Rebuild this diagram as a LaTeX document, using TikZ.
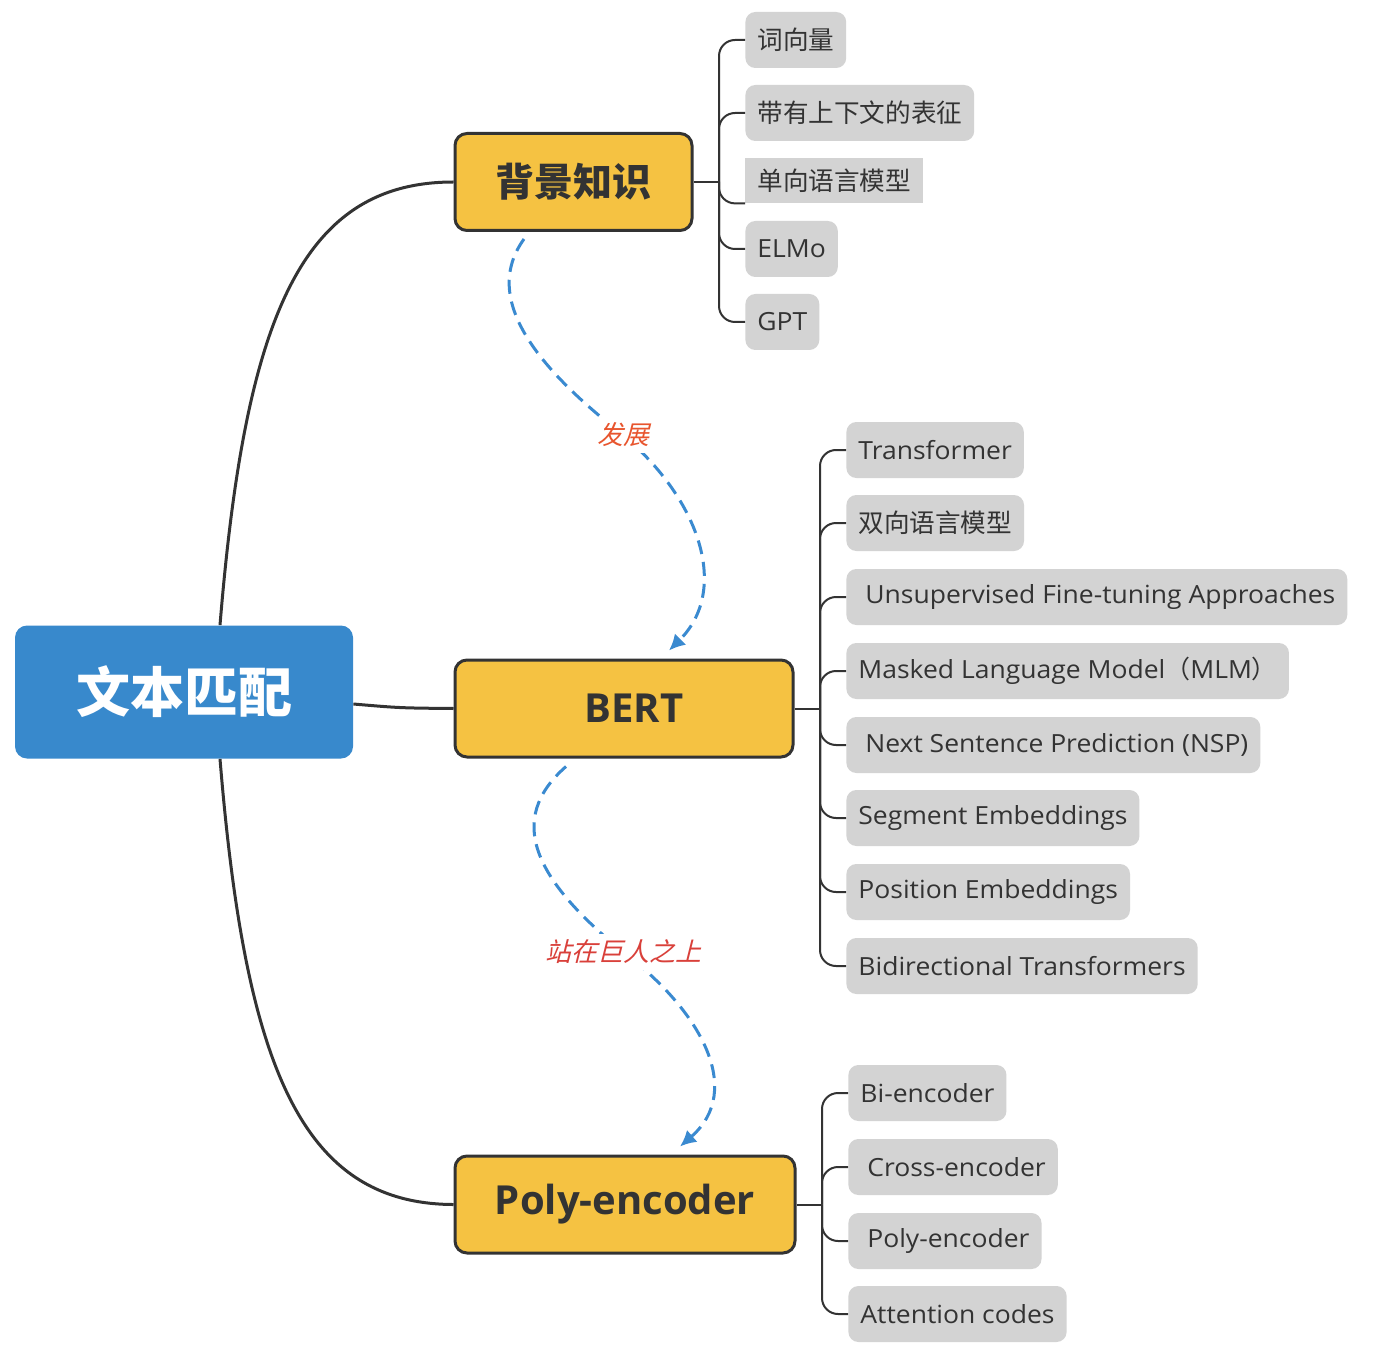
\documentclass[tikz,border=0pt]{standalone}
\usepackage{fontspec}
\setmainfont{Open Sans}
\newfontfamily\leaffont[FakeStretch=1.06]{Open Sans}
\newfontfamily\cjk{Noto Sans CJK SC}
\newfontfamily\cjkit[FakeSlant=0.25]{Noto Sans CJK SC}
\usetikzlibrary{arrows.meta}

\definecolor{rootblue}{HTML}{3889CC}
\definecolor{topicyellow}{HTML}{F5C242}
\definecolor{darkline}{HTML}{333333}
\definecolor{leafgray}{HTML}{D3D3D3}
\definecolor{flowblue}{HTML}{3A8AD0}
\definecolor{labelorange}{HTML}{E8552E}
\definecolor{labelred}{HTML}{D9403A}

\tikzset{
  rootbox/.style={fill=rootblue, rounded corners=6pt, text=white,
    minimum width=169pt, minimum height=66.5pt,
    font=\cjk\fontsize{27}{30}\selectfont\bfseries},
  topicbox/.style={draw=darkline, line width=1.5pt, fill=topicyellow,
    rounded corners=6pt, minimum height=48.5pt, text=darkline},
  leafbox/.style={fill=leafgray, rounded corners=5pt, minimum height=28pt,
    anchor=west, inner xsep=6pt, text=darkline,
    font=\leaffont\fontsize{12.5}{14}\selectfont},
  trunk/.style={draw=darkline, line width=1.5pt},
  branch/.style={draw=darkline, line width=1pt, rounded corners=8pt},
  flow/.style={draw=flowblue, line width=1.5pt, dash pattern=on 7pt off 4pt,
    -{Latex[length=8pt,width=8pt]}},
  flowlabel/.style={fill=white, inner sep=3pt,
    font=\cjkit\fontsize{13}{15}\selectfont}
}

\begin{document}
\begin{tikzpicture}[x=0.5pt,y=-0.5pt]
\useasboundingbox (0,0) rectangle (1384,1352);

% main nodes
\node[rootbox] (root) at (184,692) {文本匹配};
\node[topicbox, minimum width=118.5pt, font=\cjk\fontsize{19.5}{22}\selectfont\bfseries] (bjzs) at (573.5,182) {背景知识};
\node[topicbox, minimum width=169pt, font=\fontsize{20}{22}\selectfont\bfseries] (bert) at (624,708.5) {\hspace*{10pt}BERT};
\node[topicbox, minimum width=170pt, font=\fontsize{20}{22}\selectfont\bfseries] (poly) at (625,1204.5) {Poly-encoder};

% trunks from the root
\draw[trunk] ([xshift=18pt]root.north) .. controls (245,320) and (300,182) .. (bjzs.west);
\draw[trunk] ([xshift=18pt]root.south) .. controls (245,1064) and (300,1204) .. (poly.west);
\draw[trunk] ([yshift=-6pt]root.east) .. controls (400,708) .. (bert.west);

% background leaves
\node[leafbox, font=\cjk\fontsize{12.8}{14}\selectfont] (cxl) at (745,40) {词向量};
\node[leafbox, font=\cjk\fontsize{12.8}{14}\selectfont] (dyzw) at (745,113) {带有上下文的表征};
\node[leafbox, font=\cjk\fontsize{12.8}{14}\selectfont, rounded corners=0pt, minimum height=22.5pt, minimum width=88.5pt] (dxyy) at (745,180.5) {单向语言模型};
\node[leafbox] (elmo) at (745,249) {ELMo};
\node[leafbox] (gpt) at (745,322) {GPT};

\coordinate (bjzsk) at (719,182);
\draw[branch] (bjzs.east) -- (bjzsk);
\draw[branch] (bjzsk) |- (cxl.west);
\draw[branch] (bjzsk) |- (dyzw.west);
\draw[branch] (bjzsk) |- (dxyy.south west);
\draw[branch] (bjzsk) |- (elmo.west);
\draw[branch] (bjzsk) |- (gpt.west);

% BERT leaves
\node[leafbox] (trf) at (846,450) {Transformer};
\node[leafbox, font=\cjk\fontsize{12.8}{14}\selectfont] (sxyy) at (846,523) {双向语言模型};
\node[leafbox] (ufta) at (846,597) {\ Unsupervised Fine-tuning Approaches};
\node[leafbox] (mlm) at (846,671) {Masked Language Model{\cjk （}MLM{\cjk ）}};
\node[leafbox] (nsp) at (846,745) {\ Next Sentence Prediction (NSP)};
\node[leafbox] (seg) at (846,818) {Segment Embeddings};
\node[leafbox] (pos) at (846,892) {Position Embeddings};
\node[leafbox] (bdt) at (846,966) {Bidirectional Transformers};

\coordinate (bertk) at (820,708.5);
\draw[branch] (bert.east) -- (bertk);
\draw[branch] (bertk) |- (trf.west);
\draw[branch] (bertk) |- (sxyy.west);
\draw[branch] (bertk) |- (ufta.west);
\draw[branch] (bertk) |- (mlm.west);
\draw[branch] (bertk) |- (nsp.west);
\draw[branch] (bertk) |- (seg.west);
\draw[branch] (bertk) |- (pos.west);
\draw[branch] (bertk) |- (bdt.west);

% Poly-encoder leaves
\node[leafbox] (bienc) at (848,1093) {Bi-encoder};
\node[leafbox] (crenc) at (848,1167) {\ Cross-encoder};
\node[leafbox] (poenc) at (848,1241) {\ Poly-encoder};
\node[leafbox] (attc) at (848,1314) {Attention codes};

\coordinate (polyk) at (822,1204.5);
\draw[branch] (poly.east) -- (polyk);
\draw[branch] (polyk) |- (bienc.west);
\draw[branch] (polyk) |- (crenc.west);
\draw[branch] (polyk) |- (poenc.west);
\draw[branch] (polyk) |- (attc.west);

% dashed flows
\draw[flow] ([xshift=-24.75pt,yshift=-3.5pt]bjzs.south) .. controls (480,300) and (540,370) .. (623,435)
  node[flowlabel, text=labelorange] {发展}
  .. controls (700,500) and (730,590) .. ([xshift=22.5pt,yshift=4pt]bert.north);
\draw[flow] ([xshift=-29pt,yshift=-4pt]bert.south) .. controls (505,820) and (535,880) .. (623,952)
  node[flowlabel, text=labelred] {站在巨人之上}
  .. controls (700,1010) and (745,1090) .. ([xshift=27.5pt,yshift=4pt]poly.north);
\end{tikzpicture}
\end{document}
